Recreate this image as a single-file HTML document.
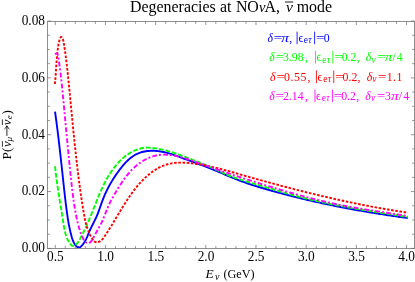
<!DOCTYPE html>
<html><head><meta charset="utf-8"><style>
html,body{margin:0;padding:0;background:#fff;}
svg{display:block;will-change:transform;font-family:"Liberation Serif",serif;}
.tl{font-size:14.2px;fill:#000;}
</style></head><body>
<svg width="415" height="282" viewBox="0 0 415 282">
<rect width="415" height="282" fill="#fff"/>
<path d="M55.03 111.58 L55.21 112.91 L55.40 114.24 L55.58 115.57 L55.76 116.90 L55.94 118.23 L56.12 119.56 L56.30 120.89 L56.47 122.22 L56.65 123.55 L56.82 124.87 L56.99 126.20 L57.16 127.53 L57.33 128.86 L57.50 130.18 L57.66 131.51 L57.83 132.84 L57.99 134.16 L58.15 135.49 L58.31 136.81 L58.47 138.14 L58.63 139.47 L58.79 140.79 L58.94 142.12 L59.10 143.44 L59.25 144.77 L59.41 146.09 L59.56 147.42 L59.71 148.75 L59.86 150.07 L60.01 151.40 L60.16 152.72 L60.31 154.05 L60.46 155.38 L60.61 156.70 L60.76 158.03 L60.90 159.36 L61.05 160.69 L61.19 162.01 L61.34 163.34 L61.49 164.67 L61.63 166.00 L61.77 167.33 L61.92 168.66 L62.06 169.99 L62.21 171.32 L62.35 172.65 L62.49 173.98 L62.64 175.31 L62.78 176.65 L62.92 177.98 L63.07 179.31 L63.21 180.65 L63.35 181.98 L63.50 183.32 L63.64 184.65 L63.79 185.99 L63.93 187.33 L64.08 188.66 L64.22 190.00 L64.37 191.34 L64.52 192.67 L64.67 194.01 L64.82 195.34 L64.97 196.68 L65.12 198.01 L65.28 199.34 L65.43 200.67 L65.59 202.00 L65.75 203.33 L65.92 204.66 L66.08 205.98 L66.25 207.30 L66.42 208.62 L66.59 209.94 L66.77 211.25 L66.95 212.56 L67.13 213.87 L67.32 215.18 L67.51 216.48 L67.71 217.78 L67.91 219.08 L68.12 220.38 L68.34 221.68 L68.56 222.98 L68.80 224.29 L69.05 225.59 L69.31 226.90 L69.58 228.21 L69.87 229.53 L70.16 230.85 L70.48 232.17 L70.81 233.50 L71.16 234.84 L71.52 236.18 L71.91 237.53 L72.33 238.87 L72.79 240.18 L73.29 241.45 L73.86 242.67 L74.50 243.81 L75.22 244.87 L76.03 245.83 L76.93 246.68 L77.93 247.31 L79.00 247.49 L80.09 247.16 L81.14 246.38 L82.13 245.33 L83.03 244.21 L83.84 243.06 L84.59 241.90 L85.27 240.71 L85.90 239.51 L86.48 238.30 L87.03 237.08 L87.55 235.85 L88.06 234.62 L88.57 233.39 L89.08 232.17 L89.60 230.95 L90.14 229.74 L90.70 228.54 L91.28 227.35 L91.87 226.16 L92.46 224.97 L93.06 223.78 L93.66 222.59 L94.25 221.40 L94.84 220.20 L95.42 219.00 L95.99 217.79 L96.54 216.57 L97.08 215.33 L97.59 214.09 L98.08 212.83 L98.56 211.57 L99.03 210.30 L99.49 209.02 L99.93 207.74 L100.38 206.46 L100.83 205.18 L101.27 203.90 L101.72 202.63 L102.18 201.36 L102.65 200.10 L103.14 198.85 L103.63 197.62 L104.14 196.39 L104.66 195.17 L105.19 193.96 L105.74 192.75 L106.30 191.56 L106.87 190.37 L107.46 189.19 L108.06 188.02 L108.67 186.85 L109.29 185.69 L109.93 184.54 L110.58 183.40 L111.25 182.25 L111.92 181.12 L112.62 179.99 L113.32 178.86 L114.04 177.74 L114.77 176.63 L115.51 175.52 L116.27 174.41 L117.05 173.30 L117.83 172.20 L118.63 171.10 L119.44 170.01 L120.27 168.91 L121.11 167.83 L121.97 166.76 L122.85 165.69 L123.74 164.65 L124.64 163.62 L125.57 162.62 L126.52 161.64 L127.48 160.68 L128.47 159.76 L129.47 158.87 L130.50 158.02 L131.55 157.20 L132.62 156.43 L133.72 155.70 L134.84 155.02 L135.99 154.39 L137.16 153.81 L138.35 153.29 L139.57 152.82 L140.82 152.41 L142.08 152.04 L143.36 151.73 L144.65 151.46 L145.96 151.24 L147.28 151.06 L148.61 150.93 L149.95 150.84 L151.29 150.79 L152.64 150.78 L153.99 150.81 L155.34 150.88 L156.69 150.98 L158.04 151.12 L159.38 151.29 L160.71 151.49 L162.03 151.72 L163.35 151.98 L164.66 152.26 L165.96 152.57 L167.25 152.91 L168.54 153.26 L169.82 153.63 L171.10 154.02 L172.38 154.43 L173.64 154.85 L174.91 155.29 L176.17 155.73 L177.43 156.19 L178.69 156.65 L179.95 157.11 L181.20 157.59 L182.46 158.06 L183.71 158.53 L184.96 159.00 L186.22 159.47 L187.48 159.94 L188.73 160.40 L189.99 160.86 L191.25 161.32 L192.50 161.77 L193.76 162.22 L195.02 162.68 L196.28 163.13 L197.54 163.58 L198.79 164.04 L200.05 164.49 L201.30 164.95 L202.55 165.42 L203.81 165.88 L205.05 166.35 L206.30 166.83 L207.55 167.31 L208.79 167.80 L210.03 168.29 L211.27 168.79 L212.51 169.30 L213.74 169.81 L214.97 170.32 L216.21 170.84 L217.44 171.36 L218.67 171.88 L219.90 172.41 L221.13 172.93 L222.36 173.46 L223.59 173.98 L224.81 174.51 L226.04 175.03 L227.27 175.56 L228.51 176.08 L229.74 176.60 L230.97 177.11 L232.21 177.63 L233.44 178.13 L234.68 178.64 L235.92 179.13 L237.17 179.63 L238.41 180.11 L239.66 180.59 L240.91 181.06 L242.17 181.52 L243.43 181.98 L244.69 182.43 L245.95 182.87 L247.22 183.31 L248.48 183.74 L249.75 184.16 L251.02 184.58 L252.30 184.99 L253.57 185.40 L254.85 185.80 L256.13 186.20 L257.41 186.59 L258.69 186.98 L259.98 187.37 L261.26 187.75 L262.54 188.13 L263.83 188.51 L265.12 188.88 L266.40 189.26 L267.69 189.63 L268.98 189.99 L270.27 190.36 L271.56 190.72 L272.85 191.08 L274.14 191.44 L275.43 191.79 L276.72 192.15 L278.01 192.50 L279.30 192.85 L280.59 193.20 L281.89 193.54 L283.18 193.89 L284.47 194.23 L285.77 194.57 L287.06 194.90 L288.36 195.24 L289.65 195.57 L290.95 195.90 L292.25 196.23 L293.54 196.56 L294.84 196.88 L296.14 197.20 L297.44 197.52 L298.74 197.84 L300.04 198.16 L301.34 198.47 L302.64 198.79 L303.94 199.10 L305.24 199.40 L306.54 199.71 L307.84 200.01 L309.14 200.32 L310.44 200.62 L311.75 200.92 L313.05 201.21 L314.36 201.51 L315.66 201.80 L316.96 202.09 L318.27 202.38 L319.57 202.67 L320.88 202.95 L322.19 203.24 L323.49 203.52 L324.80 203.80 L326.11 204.07 L327.42 204.35 L328.72 204.62 L330.03 204.90 L331.34 205.17 L332.65 205.44 L333.96 205.70 L335.27 205.97 L336.58 206.23 L337.89 206.49 L339.20 206.75 L340.52 207.01 L341.83 207.27 L343.14 207.52 L344.45 207.77 L345.77 208.02 L347.08 208.27 L348.39 208.52 L349.71 208.77 L351.02 209.01 L352.34 209.25 L353.65 209.49 L354.97 209.73 L356.28 209.97 L357.60 210.21 L358.91 210.44 L360.23 210.67 L361.55 210.90 L362.87 211.13 L364.18 211.36 L365.50 211.59 L366.82 211.81 L368.14 212.04 L369.46 212.26 L370.78 212.48 L372.10 212.69 L373.42 212.91 L374.74 213.13 L376.06 213.34 L377.38 213.55 L378.70 213.76 L380.02 213.97 L381.34 214.18 L382.66 214.39 L383.99 214.59 L385.31 214.79 L386.63 215.00 L387.96 215.20 L389.28 215.40 L390.60 215.59 L391.93 215.79 L393.25 215.98 L394.58 216.18 L395.90 216.37 L397.23 216.56 L398.55 216.75 L399.88 216.94 L401.20 217.12 L402.53 217.31 L403.85 217.49 L405.18 217.67 L406.51 217.86 L407.83 218.03" fill="none" stroke="#0000ff" stroke-width="1.9"/>
<path d="M55.06 166.26 L55.18 167.48 L55.30 168.70 L55.43 169.92 L55.56 171.13 L55.69 172.35 L55.83 173.56 L55.98 174.77 L56.12 175.97 L56.27 177.18 L56.43 178.38 L56.59 179.58 L56.75 180.78 L56.91 181.98 L57.08 183.18 L57.25 184.38 L57.42 185.57 L57.60 186.77 L57.78 187.96 L57.96 189.15 L58.14 190.34 L58.32 191.54 L58.51 192.73 L58.70 193.92 L58.89 195.11 L59.08 196.30 L59.27 197.49 L59.46 198.68 L59.65 199.87 L59.85 201.06 L60.04 202.25 L60.24 203.45 L60.43 204.64 L60.63 205.83 L60.83 207.03 L61.02 208.22 L61.22 209.42 L61.41 210.62 L61.61 211.81 L61.80 213.01 L62.00 214.22 L62.19 215.42 L62.38 216.62 L62.57 217.83 L62.76 219.04 L62.95 220.25 L63.13 221.46 L63.32 222.68 L63.50 223.89 L63.70 225.10 L63.90 226.32 L64.11 227.52 L64.34 228.73 L64.58 229.93 L64.84 231.12 L65.13 232.30 L65.44 233.48 L65.78 234.64 L66.15 235.79 L66.55 236.93 L66.99 238.06 L67.47 239.17 L67.99 240.27 L68.55 241.34 L69.17 242.40 L69.83 243.44 L70.55 244.41 L71.34 245.20 L72.21 245.71 L73.16 245.84 L74.17 245.57 L75.16 245.04 L76.07 244.36 L76.91 243.54 L77.69 242.62 L78.42 241.60 L79.10 240.52 L79.75 239.40 L80.37 238.25 L80.97 237.09 L81.56 235.95 L82.13 234.82 L82.70 233.70 L83.25 232.59 L83.79 231.48 L84.32 230.38 L84.84 229.29 L85.36 228.20 L85.86 227.12 L86.36 226.03 L86.85 224.95 L87.33 223.87 L87.81 222.79 L88.28 221.70 L88.75 220.61 L89.21 219.52 L89.67 218.42 L90.12 217.32 L90.58 216.22 L91.03 215.11 L91.48 213.99 L91.92 212.88 L92.37 211.76 L92.81 210.64 L93.25 209.51 L93.70 208.39 L94.14 207.26 L94.58 206.13 L95.03 205.00 L95.47 203.88 L95.92 202.75 L96.37 201.62 L96.82 200.49 L97.28 199.36 L97.74 198.23 L98.20 197.10 L98.67 195.98 L99.14 194.85 L99.62 193.73 L100.10 192.61 L100.59 191.50 L101.09 190.39 L101.59 189.28 L102.10 188.17 L102.62 187.07 L103.14 185.97 L103.67 184.88 L104.21 183.79 L104.76 182.71 L105.32 181.63 L105.89 180.56 L106.47 179.49 L107.07 178.43 L107.67 177.38 L108.28 176.33 L108.91 175.29 L109.55 174.26 L110.20 173.24 L110.86 172.23 L111.54 171.22 L112.23 170.22 L112.94 169.24 L113.66 168.26 L114.39 167.29 L115.14 166.34 L115.91 165.39 L116.69 164.47 L117.49 163.55 L118.30 162.65 L119.13 161.77 L119.97 160.90 L120.84 160.05 L121.71 159.22 L122.61 158.41 L123.52 157.62 L124.45 156.85 L125.40 156.10 L126.36 155.37 L127.35 154.67 L128.35 153.99 L129.37 153.34 L130.41 152.71 L131.47 152.11 L132.54 151.54 L133.64 151.00 L134.75 150.49 L135.87 150.01 L137.01 149.58 L138.16 149.18 L139.32 148.82 L140.49 148.51 L141.67 148.24 L142.86 148.02 L144.06 147.84 L145.26 147.72 L146.47 147.65 L147.68 147.64 L148.90 147.66 L150.11 147.72 L151.33 147.82 L152.54 147.95 L153.75 148.09 L154.95 148.25 L156.15 148.43 L157.35 148.63 L158.54 148.84 L159.73 149.07 L160.91 149.32 L162.09 149.58 L163.27 149.85 L164.44 150.14 L165.61 150.44 L166.78 150.75 L167.95 151.08 L169.11 151.41 L170.27 151.76 L171.43 152.11 L172.58 152.48 L173.73 152.85 L174.88 153.24 L176.03 153.63 L177.18 154.02 L178.32 154.43 L179.46 154.84 L180.60 155.25 L181.74 155.67 L182.88 156.10 L184.02 156.53 L185.15 156.96 L186.29 157.39 L187.42 157.83 L188.55 158.27 L189.69 158.70 L190.82 159.14 L191.95 159.58 L193.08 160.02 L194.21 160.45 L195.34 160.89 L196.47 161.32 L197.60 161.76 L198.73 162.19 L199.86 162.63 L200.98 163.07 L202.11 163.52 L203.23 163.97 L204.35 164.42 L205.47 164.89 L206.58 165.36 L207.69 165.83 L208.80 166.32 L209.91 166.82 L211.01 167.32 L212.11 167.83 L213.21 168.34 L214.31 168.86 L215.40 169.38 L216.50 169.90 L217.60 170.42 L218.69 170.94 L219.79 171.46 L220.89 171.97 L222.00 172.48 L223.10 172.98 L224.21 173.47 L225.32 173.96 L226.43 174.43 L227.55 174.89 L228.67 175.35 L229.80 175.80 L230.93 176.23 L232.06 176.66 L233.19 177.09 L234.33 177.50 L235.47 177.91 L236.61 178.31 L237.75 178.70 L238.90 179.09 L240.05 179.47 L241.20 179.85 L242.35 180.22 L243.51 180.59 L244.66 180.95 L245.82 181.31 L246.98 181.66 L248.14 182.01 L249.30 182.36 L250.46 182.70 L251.63 183.05 L252.79 183.39 L253.96 183.72 L255.12 184.06 L256.29 184.40 L257.46 184.73 L258.62 185.07 L259.79 185.40 L260.96 185.73 L262.12 186.07 L263.29 186.40 L264.46 186.74 L265.62 187.08 L266.79 187.42 L267.95 187.76 L269.12 188.11 L270.28 188.45 L271.44 188.80 L272.61 189.14 L273.77 189.49 L274.93 189.84 L276.09 190.19 L277.26 190.53 L278.42 190.88 L279.58 191.23 L280.74 191.57 L281.90 191.92 L283.07 192.26 L284.23 192.60 L285.39 192.94 L286.56 193.28 L287.72 193.61 L288.89 193.95 L290.06 194.28 L291.22 194.60 L292.39 194.93 L293.56 195.25 L294.73 195.56 L295.90 195.88 L297.07 196.19 L298.24 196.50 L299.41 196.80 L300.59 197.11 L301.76 197.41 L302.93 197.70 L304.11 198.00 L305.29 198.29 L306.46 198.58 L307.64 198.86 L308.82 199.15 L310.00 199.43 L311.17 199.71 L312.35 199.98 L313.53 200.26 L314.71 200.53 L315.90 200.80 L317.08 201.06 L318.26 201.33 L319.44 201.59 L320.63 201.85 L321.81 202.10 L323.00 202.36 L324.18 202.61 L325.37 202.86 L326.55 203.11 L327.74 203.36 L328.93 203.60 L330.11 203.84 L331.30 204.08 L332.49 204.32 L333.68 204.56 L334.87 204.79 L336.06 205.03 L337.25 205.26 L338.44 205.49 L339.63 205.72 L340.82 205.94 L342.01 206.17 L343.20 206.39 L344.40 206.61 L345.59 206.83 L346.78 207.05 L347.97 207.26 L349.17 207.48 L350.36 207.69 L351.56 207.91 L352.75 208.12 L353.94 208.33 L355.14 208.53 L356.33 208.74 L357.53 208.95 L358.72 209.15 L359.92 209.36 L361.12 209.56 L362.31 209.76 L363.51 209.96 L364.71 210.16 L365.90 210.36 L367.10 210.56 L368.30 210.75 L369.49 210.95 L370.69 211.14 L371.89 211.34 L373.08 211.53 L374.28 211.72 L375.48 211.92 L376.68 212.11 L377.87 212.30 L379.07 212.49 L380.27 212.68 L381.47 212.87 L382.66 213.06 L383.86 213.25 L385.06 213.43 L386.26 213.62 L387.45 213.81 L388.65 213.99 L389.85 214.18 L391.05 214.37 L392.24 214.55 L393.44 214.74 L394.64 214.92 L395.84 215.11 L397.03 215.30 L398.23 215.48 L399.43 215.67 L400.62 215.85 L401.82 216.04 L403.02 216.22 L404.21 216.41 L405.41 216.59 L406.60 216.78 L407.80 216.97" fill="none" stroke="#00ff00" stroke-width="1.9" stroke-dasharray="4.8 1.8"/>
<path d="M54.93 83.99 L55.07 82.47 L55.20 80.94 L55.33 79.41 L55.45 77.88 L55.56 76.35 L55.67 74.81 L55.78 73.27 L55.89 71.73 L55.99 70.19 L56.09 68.65 L56.20 67.11 L56.30 65.57 L56.41 64.04 L56.52 62.50 L56.64 60.96 L56.76 59.43 L56.89 57.90 L57.02 56.37 L57.16 54.84 L57.31 53.32 L57.47 51.80 L57.64 50.29 L57.82 48.78 L58.03 47.27 L58.26 45.74 L58.54 44.20 L58.86 42.63 L59.25 41.03 L59.70 39.40 L60.23 37.87 L60.90 37.03 L61.70 37.37 L62.42 38.35 L62.97 39.61 L63.40 41.07 L63.73 42.67 L64.01 44.33 L64.26 45.98 L64.51 47.60 L64.74 49.20 L64.97 50.77 L65.19 52.32 L65.40 53.85 L65.61 55.37 L65.80 56.88 L66.00 58.38 L66.19 59.88 L66.37 61.38 L66.55 62.88 L66.73 64.38 L66.91 65.89 L67.08 67.40 L67.25 68.91 L67.42 70.43 L67.58 71.95 L67.75 73.47 L67.91 75.00 L68.07 76.53 L68.22 78.06 L68.38 79.59 L68.53 81.12 L68.69 82.65 L68.84 84.19 L68.99 85.72 L69.14 87.26 L69.29 88.80 L69.44 90.33 L69.59 91.87 L69.73 93.41 L69.88 94.94 L70.03 96.48 L70.18 98.02 L70.32 99.55 L70.47 101.09 L70.62 102.62 L70.77 104.16 L70.91 105.69 L71.06 107.22 L71.21 108.76 L71.36 110.29 L71.50 111.83 L71.65 113.36 L71.80 114.89 L71.95 116.42 L72.10 117.96 L72.25 119.49 L72.40 121.02 L72.55 122.55 L72.70 124.08 L72.85 125.61 L73.00 127.15 L73.16 128.68 L73.31 130.21 L73.46 131.74 L73.62 133.27 L73.77 134.80 L73.93 136.33 L74.09 137.86 L74.25 139.39 L74.40 140.92 L74.56 142.44 L74.72 143.97 L74.89 145.50 L75.05 147.03 L75.21 148.56 L75.38 150.09 L75.54 151.61 L75.71 153.14 L75.88 154.67 L76.05 156.20 L76.22 157.72 L76.39 159.25 L76.57 160.78 L76.74 162.30 L76.92 163.83 L77.10 165.36 L77.28 166.88 L77.46 168.41 L77.64 169.94 L77.83 171.46 L78.01 172.99 L78.20 174.51 L78.39 176.04 L78.58 177.56 L78.77 179.09 L78.97 180.61 L79.17 182.14 L79.37 183.66 L79.57 185.19 L79.77 186.71 L79.98 188.24 L80.19 189.76 L80.40 191.29 L80.62 192.81 L80.84 194.34 L81.06 195.86 L81.28 197.38 L81.51 198.91 L81.74 200.43 L81.97 201.96 L82.21 203.48 L82.45 205.00 L82.70 206.53 L82.95 208.05 L83.20 209.57 L83.45 211.10 L83.71 212.62 L83.98 214.14 L84.25 215.67 L84.53 217.19 L84.83 218.70 L85.14 220.21 L85.47 221.71 L85.83 223.21 L86.21 224.70 L86.63 226.17 L87.08 227.63 L87.56 229.08 L88.09 230.51 L88.67 231.93 L89.29 233.33 L89.96 234.71 L90.69 236.06 L91.47 237.40 L92.32 238.71 L93.23 239.99 L94.24 241.18 L95.41 242.03 L96.81 242.33 L98.41 241.99 L100.00 241.23 L101.35 240.27 L102.48 239.19 L103.44 238.03 L104.30 236.80 L105.14 235.54 L105.98 234.26 L106.81 232.97 L107.65 231.68 L108.47 230.37 L109.30 229.06 L110.11 227.76 L110.92 226.44 L111.73 225.13 L112.53 223.82 L113.33 222.50 L114.12 221.18 L114.92 219.87 L115.71 218.55 L116.50 217.23 L117.29 215.92 L118.08 214.60 L118.87 213.28 L119.67 211.97 L120.46 210.66 L121.26 209.35 L122.07 208.04 L122.88 206.73 L123.69 205.43 L124.51 204.13 L125.33 202.84 L126.16 201.54 L127.00 200.26 L127.85 198.97 L128.70 197.70 L129.57 196.43 L130.44 195.16 L131.33 193.91 L132.23 192.66 L133.14 191.42 L134.07 190.20 L135.01 188.98 L135.96 187.78 L136.93 186.58 L137.92 185.40 L138.92 184.24 L139.94 183.09 L140.98 181.95 L142.04 180.83 L143.12 179.73 L144.22 178.65 L145.34 177.58 L146.49 176.53 L147.65 175.51 L148.84 174.51 L150.05 173.53 L151.28 172.58 L152.53 171.67 L153.79 170.78 L155.08 169.94 L156.39 169.13 L157.72 168.36 L159.06 167.63 L160.43 166.95 L161.81 166.31 L163.21 165.73 L164.62 165.19 L166.06 164.71 L167.51 164.29 L168.97 163.91 L170.45 163.59 L171.94 163.32 L173.44 163.10 L174.96 162.92 L176.48 162.79 L178.01 162.70 L179.55 162.64 L181.10 162.62 L182.65 162.64 L184.20 162.68 L185.76 162.76 L187.31 162.86 L188.87 162.99 L190.43 163.14 L191.98 163.31 L193.54 163.51 L195.08 163.71 L196.63 163.94 L198.17 164.17 L199.70 164.42 L201.23 164.68 L202.75 164.96 L204.27 165.24 L205.79 165.54 L207.30 165.85 L208.81 166.17 L210.31 166.50 L211.81 166.84 L213.31 167.18 L214.81 167.54 L216.30 167.90 L217.79 168.27 L219.28 168.65 L220.76 169.04 L222.25 169.43 L223.73 169.82 L225.21 170.22 L226.69 170.63 L228.16 171.04 L229.64 171.45 L231.11 171.86 L232.59 172.28 L234.06 172.70 L235.54 173.12 L237.01 173.54 L238.49 173.96 L239.96 174.38 L241.43 174.80 L242.91 175.22 L244.39 175.64 L245.86 176.06 L247.34 176.48 L248.82 176.89 L250.29 177.31 L251.77 177.72 L253.25 178.14 L254.73 178.55 L256.21 178.96 L257.69 179.38 L259.17 179.79 L260.65 180.20 L262.13 180.61 L263.61 181.01 L265.09 181.42 L266.58 181.83 L268.06 182.23 L269.54 182.64 L271.03 183.04 L272.51 183.44 L274.00 183.84 L275.48 184.24 L276.97 184.64 L278.45 185.04 L279.94 185.43 L281.43 185.83 L282.91 186.22 L284.40 186.61 L285.89 187.00 L287.38 187.39 L288.87 187.78 L290.36 188.17 L291.85 188.55 L293.34 188.94 L294.83 189.32 L296.32 189.70 L297.81 190.08 L299.30 190.46 L300.80 190.84 L302.29 191.22 L303.78 191.59 L305.28 191.96 L306.77 192.33 L308.27 192.70 L309.76 193.07 L311.26 193.44 L312.75 193.80 L314.25 194.17 L315.75 194.53 L317.24 194.89 L318.74 195.25 L320.24 195.60 L321.74 195.96 L323.24 196.31 L324.74 196.66 L326.24 197.01 L327.74 197.36 L329.24 197.71 L330.74 198.05 L332.24 198.39 L333.74 198.73 L335.24 199.07 L336.75 199.41 L338.25 199.74 L339.75 200.07 L341.26 200.40 L342.76 200.73 L344.26 201.06 L345.77 201.38 L347.28 201.70 L348.78 202.02 L350.29 202.34 L351.79 202.66 L353.30 202.97 L354.81 203.28 L356.32 203.59 L357.82 203.90 L359.33 204.20 L360.84 204.51 L362.35 204.81 L363.86 205.10 L365.37 205.40 L366.88 205.69 L368.39 205.98 L369.91 206.27 L371.42 206.56 L372.93 206.84 L374.44 207.12 L375.95 207.40 L377.47 207.68 L378.98 207.95 L380.50 208.22 L382.01 208.49 L383.53 208.76 L385.04 209.02 L386.56 209.28 L388.07 209.54 L389.59 209.80 L391.11 210.05 L392.62 210.30 L394.14 210.55 L395.66 210.79 L397.18 211.04 L398.69 211.28 L400.21 211.51 L401.73 211.75 L403.25 211.98 L404.77 212.21 L406.29 212.43 L407.81 212.66" fill="none" stroke="#ff0000" stroke-width="1.9" stroke-dasharray="2.6 1.6"/>
<path d="M55.04 54.36 L56.16 53.39 L56.99 53.39 L57.59 54.15 L58.01 55.44 L58.32 57.05 L58.57 58.75 L58.80 60.38 L59.02 61.94 L59.23 63.44 L59.44 64.89 L59.64 66.30 L59.83 67.70 L60.01 69.08 L60.19 70.47 L60.37 71.87 L60.55 73.27 L60.72 74.67 L60.89 76.07 L61.05 77.48 L61.21 78.90 L61.37 80.31 L61.52 81.73 L61.68 83.16 L61.83 84.58 L61.98 86.01 L62.12 87.44 L62.27 88.87 L62.41 90.30 L62.55 91.73 L62.69 93.16 L62.83 94.60 L62.97 96.03 L63.10 97.47 L63.24 98.90 L63.38 100.34 L63.51 101.77 L63.64 103.21 L63.78 104.64 L63.91 106.07 L64.05 107.51 L64.18 108.94 L64.32 110.37 L64.45 111.80 L64.58 113.23 L64.72 114.66 L64.85 116.09 L64.98 117.52 L65.12 118.95 L65.25 120.38 L65.39 121.81 L65.52 123.24 L65.65 124.66 L65.79 126.09 L65.92 127.52 L66.06 128.95 L66.19 130.37 L66.32 131.80 L66.46 133.23 L66.59 134.65 L66.73 136.08 L66.86 137.51 L67.00 138.93 L67.14 140.36 L67.27 141.78 L67.41 143.21 L67.55 144.63 L67.69 146.06 L67.82 147.49 L67.96 148.91 L68.10 150.34 L68.24 151.76 L68.38 153.19 L68.52 154.61 L68.67 156.04 L68.81 157.47 L68.95 158.89 L69.09 160.32 L69.24 161.74 L69.38 163.17 L69.53 164.60 L69.67 166.02 L69.82 167.45 L69.97 168.88 L70.12 170.31 L70.27 171.74 L70.42 173.16 L70.57 174.59 L70.72 176.02 L70.87 177.45 L71.03 178.88 L71.18 180.31 L71.34 181.74 L71.50 183.17 L71.65 184.60 L71.81 186.03 L71.98 187.47 L72.14 188.90 L72.31 190.33 L72.48 191.76 L72.65 193.19 L72.83 194.62 L73.01 196.04 L73.19 197.47 L73.38 198.90 L73.58 200.32 L73.78 201.74 L73.99 203.16 L74.20 204.58 L74.42 206.00 L74.65 207.41 L74.89 208.82 L75.13 210.23 L75.38 211.64 L75.64 213.04 L75.91 214.44 L76.19 215.84 L76.47 217.23 L76.77 218.62 L77.08 220.00 L77.40 221.39 L77.73 222.76 L78.07 224.14 L78.43 225.51 L78.81 226.88 L79.21 228.25 L79.63 229.62 L80.08 230.99 L80.55 232.37 L81.06 233.75 L81.61 235.13 L82.19 236.52 L82.81 237.93 L83.49 239.32 L84.24 240.61 L85.10 241.72 L86.11 242.53 L87.28 242.97 L88.56 242.98 L89.76 242.58 L90.79 241.80 L91.69 240.73 L92.48 239.46 L93.22 238.10 L93.94 236.74 L94.66 235.40 L95.37 234.09 L96.08 232.80 L96.78 231.53 L97.48 230.28 L98.17 229.04 L98.84 227.80 L99.51 226.56 L100.16 225.32 L100.79 224.08 L101.41 222.82 L102.01 221.55 L102.60 220.26 L103.16 218.95 L103.71 217.63 L104.24 216.29 L104.77 214.93 L105.30 213.58 L105.82 212.22 L106.35 210.86 L106.89 209.51 L107.44 208.17 L108.01 206.84 L108.59 205.52 L109.20 204.23 L109.82 202.94 L110.45 201.67 L111.11 200.40 L111.77 199.15 L112.45 197.91 L113.15 196.67 L113.85 195.43 L114.56 194.20 L115.28 192.97 L116.01 191.74 L116.74 190.51 L117.48 189.29 L118.23 188.06 L118.99 186.84 L119.76 185.62 L120.54 184.41 L121.33 183.20 L122.13 182.01 L122.95 180.82 L123.78 179.64 L124.62 178.47 L125.48 177.32 L126.36 176.18 L127.26 175.05 L128.17 173.94 L129.10 172.85 L130.05 171.77 L131.02 170.72 L132.01 169.68 L133.03 168.67 L134.07 167.68 L135.13 166.71 L136.21 165.77 L137.32 164.85 L138.46 163.96 L139.61 163.10 L140.79 162.28 L141.99 161.48 L143.22 160.73 L144.46 160.00 L145.72 159.32 L147.00 158.68 L148.29 158.08 L149.60 157.52 L150.93 157.00 L152.28 156.54 L153.63 156.12 L155.01 155.75 L156.39 155.43 L157.78 155.17 L159.19 154.96 L160.61 154.81 L162.03 154.71 L163.47 154.67 L164.91 154.67 L166.35 154.72 L167.79 154.82 L169.24 154.95 L170.68 155.12 L172.12 155.33 L173.55 155.56 L174.98 155.82 L176.40 156.10 L177.81 156.41 L179.21 156.73 L180.61 157.08 L182.00 157.44 L183.38 157.82 L184.76 158.22 L186.13 158.63 L187.50 159.06 L188.87 159.49 L190.23 159.94 L191.58 160.40 L192.93 160.87 L194.29 161.34 L195.63 161.82 L196.98 162.30 L198.33 162.79 L199.67 163.28 L201.02 163.77 L202.36 164.27 L203.71 164.76 L205.05 165.24 L206.40 165.73 L207.75 166.21 L209.10 166.70 L210.45 167.17 L211.80 167.65 L213.16 168.13 L214.51 168.60 L215.86 169.07 L217.22 169.54 L218.57 170.01 L219.93 170.47 L221.29 170.93 L222.65 171.39 L224.01 171.85 L225.36 172.31 L226.73 172.77 L228.09 173.22 L229.45 173.68 L230.81 174.13 L232.17 174.58 L233.54 175.03 L234.90 175.48 L236.26 175.92 L237.63 176.37 L238.99 176.81 L240.36 177.25 L241.73 177.70 L243.09 178.14 L244.46 178.58 L245.83 179.01 L247.19 179.45 L248.56 179.89 L249.93 180.33 L251.30 180.76 L252.67 181.20 L254.04 181.63 L255.40 182.06 L256.77 182.50 L258.14 182.93 L259.51 183.36 L260.88 183.79 L262.25 184.22 L263.62 184.64 L264.99 185.07 L266.37 185.50 L267.74 185.92 L269.11 186.34 L270.48 186.76 L271.85 187.18 L273.23 187.60 L274.60 188.02 L275.97 188.43 L277.35 188.85 L278.72 189.26 L280.10 189.67 L281.48 190.08 L282.85 190.48 L284.23 190.89 L285.61 191.29 L286.98 191.69 L288.36 192.09 L289.74 192.49 L291.12 192.88 L292.50 193.27 L293.88 193.66 L295.26 194.05 L296.64 194.43 L298.02 194.82 L299.41 195.19 L300.79 195.57 L302.18 195.95 L303.56 196.32 L304.95 196.69 L306.33 197.05 L307.72 197.42 L309.11 197.78 L310.50 198.14 L311.88 198.49 L313.27 198.84 L314.67 199.19 L316.06 199.53 L317.45 199.88 L318.84 200.21 L320.24 200.55 L321.63 200.88 L323.03 201.21 L324.42 201.53 L325.82 201.86 L327.22 202.17 L328.62 202.49 L330.02 202.80 L331.42 203.10 L332.82 203.41 L334.22 203.70 L335.63 204.00 L337.03 204.29 L338.44 204.58 L339.84 204.86 L341.25 205.14 L342.66 205.41 L344.07 205.68 L345.48 205.95 L346.89 206.21 L348.30 206.48 L349.71 206.73 L351.13 206.99 L352.54 207.24 L353.95 207.49 L355.37 207.73 L356.78 207.98 L358.20 208.22 L359.62 208.46 L361.03 208.70 L362.45 208.93 L363.87 209.17 L365.29 209.40 L366.70 209.63 L368.12 209.86 L369.54 210.08 L370.96 210.31 L372.38 210.53 L373.80 210.76 L375.22 210.98 L376.64 211.21 L378.06 211.43 L379.48 211.65 L380.89 211.87 L382.31 212.09 L383.73 212.31 L385.15 212.54 L386.57 212.76 L387.99 212.98 L389.40 213.20 L390.82 213.43 L392.24 213.65 L393.66 213.88 L395.07 214.10 L396.49 214.33 L397.90 214.56 L399.32 214.79 L400.73 215.02 L402.15 215.25 L403.56 215.49 L404.97 215.73 L406.38 215.97 L407.79 216.21" fill="none" stroke="#ff00ff" stroke-width="1.9" stroke-dasharray="4.8 2 2 2.2"/>
<rect x="47.5" y="21.5" width="367.0" height="227.0" fill="none" stroke="#8e8e8e" stroke-width="1"/>
<path d="M55.25 248.5v-3.6M55.25 21.5v3.6M65.29 248.5v-2.4M65.29 21.5v2.4M75.32 248.5v-2.4M75.32 21.5v2.4M85.36 248.5v-2.4M85.36 21.5v2.4M95.39 248.5v-2.4M95.39 21.5v2.4M105.43 248.5v-3.6M105.43 21.5v3.6M115.47 248.5v-2.4M115.47 21.5v2.4M125.50 248.5v-2.4M125.50 21.5v2.4M135.54 248.5v-2.4M135.54 21.5v2.4M145.57 248.5v-2.4M145.57 21.5v2.4M155.61 248.5v-3.6M155.61 21.5v3.6M165.65 248.5v-2.4M165.65 21.5v2.4M175.68 248.5v-2.4M175.68 21.5v2.4M185.72 248.5v-2.4M185.72 21.5v2.4M195.75 248.5v-2.4M195.75 21.5v2.4M205.79 248.5v-3.6M205.79 21.5v3.6M215.83 248.5v-2.4M215.83 21.5v2.4M225.86 248.5v-2.4M225.86 21.5v2.4M235.90 248.5v-2.4M235.90 21.5v2.4M245.93 248.5v-2.4M245.93 21.5v2.4M255.97 248.5v-3.6M255.97 21.5v3.6M266.01 248.5v-2.4M266.01 21.5v2.4M276.04 248.5v-2.4M276.04 21.5v2.4M286.08 248.5v-2.4M286.08 21.5v2.4M296.11 248.5v-2.4M296.11 21.5v2.4M306.15 248.5v-3.6M306.15 21.5v3.6M316.19 248.5v-2.4M316.19 21.5v2.4M326.22 248.5v-2.4M326.22 21.5v2.4M336.26 248.5v-2.4M336.26 21.5v2.4M346.29 248.5v-2.4M346.29 21.5v2.4M356.33 248.5v-3.6M356.33 21.5v3.6M366.37 248.5v-2.4M366.37 21.5v2.4M376.40 248.5v-2.4M376.40 21.5v2.4M386.44 248.5v-2.4M386.44 21.5v2.4M396.47 248.5v-2.4M396.47 21.5v2.4M406.51 248.5v-3.6M406.51 21.5v3.6M47.5 248.40h3.6M414.5 248.40h-3.6M47.5 234.19h2.4M414.5 234.19h-2.4M47.5 219.98h2.4M414.5 219.98h-2.4M47.5 205.77h2.4M414.5 205.77h-2.4M47.5 191.56h3.6M414.5 191.56h-3.6M47.5 177.35h2.4M414.5 177.35h-2.4M47.5 163.14h2.4M414.5 163.14h-2.4M47.5 148.93h2.4M414.5 148.93h-2.4M47.5 134.72h3.6M414.5 134.72h-3.6M47.5 120.51h2.4M414.5 120.51h-2.4M47.5 106.30h2.4M414.5 106.30h-2.4M47.5 92.09h2.4M414.5 92.09h-2.4M47.5 77.88h3.6M414.5 77.88h-3.6M47.5 63.67h2.4M414.5 63.67h-2.4M47.5 49.46h2.4M414.5 49.46h-2.4M47.5 35.25h2.4M414.5 35.25h-2.4M47.5 21.04h3.6M414.5 21.04h-3.6" stroke="#6a6a6a" stroke-width="0.7" fill="none"/>
<text transform="translate(55.45,260.5) scale(0.94,1)" text-anchor="middle" class="tl">0.5</text>
<text transform="translate(105.63,260.5) scale(0.94,1)" text-anchor="middle" class="tl">1.0</text>
<text transform="translate(155.81,260.5) scale(0.94,1)" text-anchor="middle" class="tl">1.5</text>
<text transform="translate(205.99,260.5) scale(0.94,1)" text-anchor="middle" class="tl">2.0</text>
<text transform="translate(256.17,260.5) scale(0.94,1)" text-anchor="middle" class="tl">2.5</text>
<text transform="translate(306.35,260.5) scale(0.94,1)" text-anchor="middle" class="tl">3.0</text>
<text transform="translate(356.53,260.5) scale(0.94,1)" text-anchor="middle" class="tl">3.5</text>
<text transform="translate(406.71,260.5) scale(0.94,1)" text-anchor="middle" class="tl">4.0</text>
<text transform="translate(45.0,252.30) scale(0.94,1)" text-anchor="end" class="tl">0.00</text>
<text transform="translate(45.0,195.46) scale(0.94,1)" text-anchor="end" class="tl">0.02</text>
<text transform="translate(45.0,138.62) scale(0.94,1)" text-anchor="end" class="tl">0.04</text>
<text transform="translate(45.0,81.78) scale(0.94,1)" text-anchor="end" class="tl">0.06</text>
<text transform="translate(45.0,24.94) scale(0.94,1)" text-anchor="end" class="tl">0.08</text>
<g fill="#0000ff"><text x="267.45" y="41.60" font-size="11.8" font-style="italic">δ</text><text transform="translate(273.75,41.60) scale(1.28,1)" font-size="11.8">=</text><text transform="translate(281.22,41.60) scale(1.25,1)" font-size="12.4" font-style="italic">π</text><text x="289.25" y="41.60" font-size="11.8">,</text><rect x="296.65" y="31.60" width="0.85" height="12.6"/><text x="298.55" y="41.60" font-size="11.8">ϵ</text><text x="303.83" y="43.40" font-size="9.5">e</text><text x="308.19" y="43.40" font-size="9.5" font-style="italic">τ</text><rect x="314.25" y="31.60" width="0.85" height="12.6"/><text transform="translate(316.05,41.60) scale(1.28,1)" font-size="11.8">=</text><text x="323.65" y="41.60" font-size="11.8">0</text></g>
<g fill="#00ff00"><text x="269.15" y="60.90" font-size="11.8" font-style="italic">δ</text><text transform="translate(275.75,60.90) scale(1.28,1)" font-size="11.8">=</text><text x="282.94" y="60.90" font-size="11.8">3.98</text><text x="305.05" y="60.90" font-size="11.8">,</text><rect x="315.05" y="50.90" width="0.85" height="12.6"/><text x="316.55" y="60.90" font-size="11.8">ϵ</text><text x="322.23" y="62.70" font-size="9.5">e</text><text x="326.79" y="62.70" font-size="9.5" font-style="italic">τ</text><rect x="332.45" y="50.90" width="0.85" height="12.6"/><text transform="translate(334.35,60.90) scale(1.28,1)" font-size="11.8">=</text><text x="341.65" y="60.90" font-size="11.8">0.2</text><text x="356.65" y="60.90" font-size="11.8">,</text><text x="365.75" y="60.90" font-size="11.8" font-style="italic">δ</text><text x="371.47" y="62.70" font-size="9.5" font-style="italic">ν</text><text transform="translate(377.15,60.90) scale(1.28,1)" font-size="11.8">=</text><text transform="translate(384.82,60.90) scale(1.25,1)" font-size="12.4" font-style="italic">π</text><text x="392.40" y="60.90" font-size="11.8">/</text><text x="396.87" y="60.90" font-size="11.8">4</text></g>
<g fill="#ff0000"><text x="270.05" y="80.50" font-size="11.8" font-style="italic">δ</text><text transform="translate(276.45,80.50) scale(1.28,1)" font-size="11.8">=</text><text x="284.05" y="80.50" font-size="11.8" letter-spacing="0.55">0.55</text><text x="307.55" y="80.50" font-size="11.8">,</text><rect x="315.95" y="70.50" width="0.85" height="12.6"/><text x="317.45" y="80.50" font-size="11.8">ϵ</text><text x="323.13" y="82.30" font-size="9.5">e</text><text x="327.69" y="82.30" font-size="9.5" font-style="italic">τ</text><rect x="333.35" y="70.50" width="0.85" height="12.6"/><text transform="translate(335.25,80.50) scale(1.28,1)" font-size="11.8">=</text><text x="342.55" y="80.50" font-size="11.8">0.2</text><text x="357.55" y="80.50" font-size="11.8">,</text><text x="366.65" y="80.50" font-size="11.8" font-style="italic">δ</text><text x="372.37" y="82.30" font-size="9.5" font-style="italic">ν</text><text transform="translate(378.05,80.50) scale(1.28,1)" font-size="11.8">=</text><text x="386.76" y="80.50" font-size="11.8" letter-spacing="0.43">1.1</text></g>
<g fill="#ff00ff"><text x="269.15" y="99.50" font-size="11.8" font-style="italic">δ</text><text transform="translate(275.55,99.50) scale(1.28,1)" font-size="11.8">=</text><text x="282.98" y="99.50" font-size="11.8">2.14</text><text x="305.05" y="99.50" font-size="11.8">,</text><rect x="314.55" y="89.50" width="0.85" height="12.6"/><text x="316.05" y="99.50" font-size="11.8">ϵ</text><text x="321.73" y="101.30" font-size="9.5">e</text><text x="326.29" y="101.30" font-size="9.5" font-style="italic">τ</text><rect x="331.95" y="89.50" width="0.85" height="12.6"/><text transform="translate(333.85,99.50) scale(1.28,1)" font-size="11.8">=</text><text x="341.15" y="99.50" font-size="11.8">0.2</text><text x="356.15" y="99.50" font-size="11.8">,</text><text x="365.25" y="99.50" font-size="11.8" font-style="italic">δ</text><text x="370.97" y="101.30" font-size="9.5" font-style="italic">ν</text><text transform="translate(376.65,99.50) scale(1.28,1)" font-size="11.8">=</text><text x="385.04" y="99.50" font-size="11.8">3</text><text transform="translate(391.12,99.50) scale(1.25,1)" font-size="12.4" font-style="italic">π</text><text x="398.70" y="99.50" font-size="11.8">/</text><text x="403.17" y="99.50" font-size="11.8">4</text></g>
<g font-size="15.9">
<text x="130.1" y="11.5" word-spacing="0.4">Degeneracies at NO</text>
<text x="259.0" y="11.5" font-style="italic" font-size="14.5">ν</text>
<text x="264.6" y="11.5">A,</text>
<text x="286.0" y="11.5" font-style="italic" font-size="15.5">ν</text>
<text x="296.7" y="11.5">mode</text>
</g>
<path d="M285 2.0h8.2" stroke="#000" stroke-width="0.9"/>
<text x="205.4" y="277.9" font-size="13.4" font-style="italic">E</text>
<text x="214.9" y="280.3" font-size="10" font-style="italic">ν</text>
<text x="223.5" y="277.9" font-size="12.2">(GeV)</text>
<g transform="translate(11,159.5) rotate(-90)" font-size="13">
<text x="0" y="0">P</text>
<text x="7.4" y="0">(</text>
<text x="12.5" y="0" font-style="italic" font-size="13">ν</text>
<path d="M12.7 -8.6h5.6M34.5 -8.6h5.6" stroke="#000" stroke-width="0.8"/>
<text x="18" y="1.4" font-style="italic" font-size="9">μ</text>
<path d="M23.6 -4.1H33.2M30.4 -6.6Q31.6 -4.9 33.8 -4.1Q31.6 -3.3 30.4 -1.6" stroke="#000" stroke-width="0.85" fill="none"/>
<text x="34.3" y="0" font-style="italic" font-size="13">ν</text>
<text x="40.3" y="1.2" font-style="italic" font-size="9">e</text>
<text x="45.0" y="0">)</text>
</g>
</svg>
</body></html>
